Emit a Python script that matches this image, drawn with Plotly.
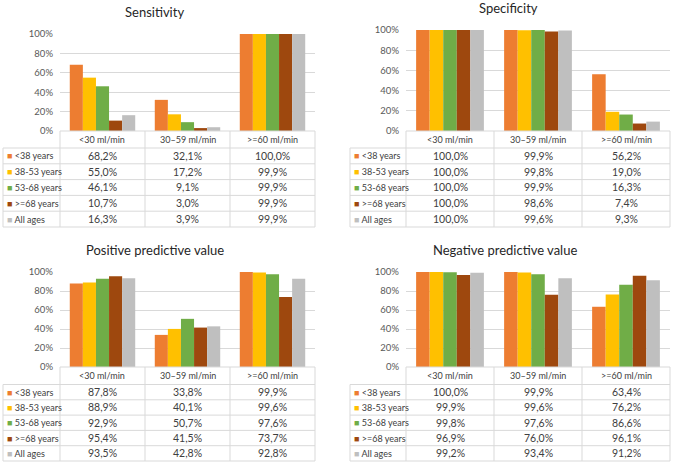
import plotly.graph_objects as go

W, H = 677, 464

# ---------------- data ----------------
categories = ["<30 ml/min", "30–59 ml/min", ">=60 ml/min"]
groups = ["<38 years", "38-53 years", "53-68 years", ">=68 years", "All ages"]
titles = ["Sensitivity", "Specificity", "Positive predictive value", "Negative predictive value"]

# rows = age groups, columns = categories (%)
sensitivity = [[68.2, 32.1, 100.0],
               [55.0, 17.2, 99.9],
               [46.1, 9.1, 99.9],
               [10.7, 3.0, 99.9],
               [16.3, 3.9, 99.9]]
specificity = [[100.0, 99.9, 56.2],
               [100.0, 99.8, 19.0],
               [100.0, 99.9, 16.3],
               [100.0, 98.6, 7.4],
               [100.0, 99.6, 9.3]]
ppv = [[87.8, 33.8, 99.9],
       [88.9, 40.1, 99.6],
       [92.9, 50.7, 97.6],
       [95.4, 41.5, 73.7],
       [93.5, 42.8, 92.8]]
npv = [[100.0, 99.9, 63.4],
       [99.9, 99.6, 76.2],
       [99.8, 97.6, 86.6],
       [96.9, 76.0, 96.1],
       [99.2, 93.4, 91.2]]
y_ticks = [0, 20, 40, 60, 80, 100]

# ---------------- style ----------------
colors = ["#ED7D31", "#FFC000", "#70AD47", "#9E480E", "#BFBFBF"]
FONT = "Lato"
TXT = "#404040"
GRID = "#D9D9D9"

# panel geometry in pixels: plot x0, x1, y(100%), y(0%), table left, header h, row h, title cx, cy
panels = [
    dict(x0=60, x1=315, yt=34, yb=131, tl=3, hh=17, rh=15.8, tx=154, ty=12),
    dict(x0=406, x1=670, yt=30, yb=131, tl=350, hh=17, rh=15.8, tx=508, ty=8),
    dict(x0=60, x1=315, yt=272, yb=367, tl=3, hh=17.5, rh=15.3, tx=155, ty=250),
    dict(x0=406, x1=670, yt=272, yb=367, tl=350, hh=17.5, rh=15.3, tx=505, ty=250),
]
datasets = [sensitivity, specificity, ppv, npv]


def esc(s):
    return s.replace("&", "&amp;").replace("<", "&lt;").replace(">", "&gt;")


def fmt(v):
    return f"{v:.1f}".replace(".", ",") + "%"


def px(x):
    return x / W


def py(y):
    return 1 - y / H


fig = go.Figure()
annotations = []
shapes = []
layout = dict(
    template="none",
    width=W, height=H, autosize=False,
    margin=dict(l=0, r=0, t=0, b=0, pad=0, autoexpand=False),
    paper_bgcolor="white", plot_bgcolor="white",
    barmode="group", bargap=0.23, bargroupgap=0,
    showlegend=False,
    font=dict(family=FONT, color=TXT),
)

for i, (p, data, title) in enumerate(zip(panels, datasets, titles)):
    n = "" if i == 0 else str(i + 1)
    xa, ya = "x" + n, "y" + n
    layout["xaxis" + n] = dict(
        domain=[px(p["x0"]), px(p["x1"])], type="category",
        categoryorder="array", categoryarray=categories,
        showticklabels=False, showgrid=False, zeroline=False, automargin=False,
        showline=False, ticks="", anchor=ya, fixedrange=True,
    )
    layout["yaxis" + n] = dict(
        domain=[py(p["yb"]), py(p["yt"])], range=[0, 100],
        tickvals=y_ticks, ticktext=[f"{t}%" for t in y_ticks],
        tickfont=dict(size=9.5, color="#595959", family=FONT),
        gridcolor=GRID, gridwidth=1, zeroline=False, showline=False, automargin=False,
        ticks="", ticklabelstandoff=6, anchor=xa, fixedrange=True,
    )
    for g, vals, c in zip(groups, data, colors):
        fig.add_trace(go.Bar(
            x=categories, y=vals, name=g, marker=dict(color=c, line=dict(width=0)),
            xaxis=xa, yaxis=ya, hovertemplate=g + ": %{y:.1f}%<extra></extra>",
        ))

    # ---- data table under the chart ----
    ncat = len(categories)
    w = (p["x1"] - p["x0"]) / ncat
    col_edges = [p["x0"] + k * w for k in range(ncat + 1)]
    top = p["yb"]
    hb = top + p["hh"]
    row_edges = [hb + r * p["rh"] for r in range(len(groups) + 1)]
    bottom = row_edges[-1]
    line = dict(color=GRID, width=1)
    shapes.append(dict(type="line", xref="paper", yref="paper", x0=px(p["x0"]), x1=px(p["x1"]),
                       y0=py(top), y1=py(top), line=line, layer="above"))
    for ye in row_edges:
        shapes.append(dict(type="line", xref="paper", yref="paper", x0=px(p["tl"]), x1=px(p["x1"]),
                           y0=py(ye), y1=py(ye), line=line))
    shapes.append(dict(type="line", xref="paper", yref="paper", x0=px(p["tl"]), x1=px(p["tl"]),
                       y0=py(hb), y1=py(bottom), line=line))
    for xe in col_edges:
        shapes.append(dict(type="line", xref="paper", yref="paper", x0=px(xe), x1=px(xe),
                           y0=py(top), y1=py(bottom), line=line))
    for k, cat in enumerate(categories):
        annotations.append(dict(
            text=esc(cat), x=px((col_edges[k] + col_edges[k + 1]) / 2), y=py((top + hb) / 2),
            xref="paper", yref="paper", xanchor="center", yanchor="middle", showarrow=False,
            font=dict(family=FONT, size=9, color=TXT),
        ))
    for r, (g, c) in enumerate(zip(groups, colors)):
        yc = py((row_edges[r] + row_edges[r + 1]) / 2)
        annotations.append(dict(
            text=f"<span style='color:{c}'>■</span> {esc(g)}", x=px(p["tl"] + 2), y=yc,
            xref="paper", yref="paper", xanchor="left", yanchor="middle", showarrow=False,
            font=dict(family=FONT, size=9, color=TXT),
        ))
        for k in range(ncat):
            annotations.append(dict(
                text=fmt(data[r][k]), x=px((col_edges[k] + col_edges[k + 1]) / 2), y=yc,
                xref="paper", yref="paper", xanchor="center", yanchor="middle", showarrow=False,
                font=dict(family=FONT, size=10.5, color=TXT),
            ))

    annotations.append(dict(
        text=title, x=px(p["tx"]), y=py(p["ty"]), xref="paper", yref="paper",
        xanchor="center", yanchor="middle", showarrow=False,
        font=dict(family=FONT, size=13, color="#262626"),
    ))

layout["annotations"] = annotations
layout["shapes"] = shapes
fig.update_layout(**layout)
fig.write_html("out.html", config={"displayModeBar": False},
               post_script="document.body.style.margin='0px';")
